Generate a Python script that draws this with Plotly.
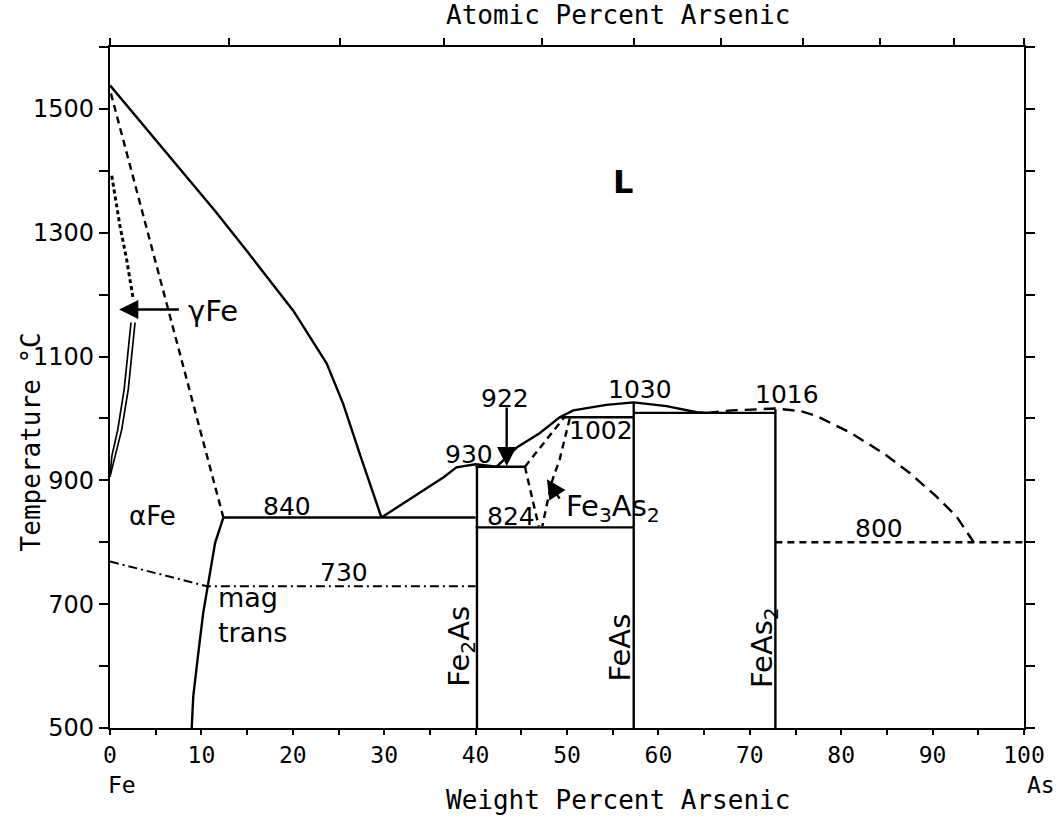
import plotly.graph_objects as go

# ---------------- data (wt% As, temperature degC) ----------------
liq_fe_x = [0, 5, 9.85, 11.5, 15, 20.05, 23.7, 25.5, 27.5, 29.7]
liq_fe_y = [1538, 1450, 1365, 1335, 1270, 1174, 1089, 1024, 935, 840]

liq_mid_x = [29.7, 32, 34.3, 36.5, 37.9, 40.0, 42.3, 44.5, 47.0, 49.2, 50.7, 54.3, 57.3, 60.9, 64.2, 65.3]
liq_mid_y = [840, 862, 884, 905, 921, 926, 922, 953, 976, 1002, 1013, 1022, 1026, 1020, 1010, 1009]

liq_as_x = [65.3, 68, 72.8, 75.5, 77.3, 81.0, 84.6, 87.5, 90.4, 92.6, 94.5]
liq_as_y = [1009, 1013, 1016, 1012, 1004, 977, 944, 912, 874, 842, 800]

solvus_x = [12.4, 11.5, 10.75, 10.2, 9.66, 9.11, 8.94]
solvus_y = [840, 799, 734, 686, 621, 551, 500]

delta_x = [0.1, 12.4]
delta_y = [1525, 840]

gamma_wavy_x = [0.19, 1.09, 1.82, 2.55]
gamma_wavy_y = [1392, 1311, 1257, 1192]

gamma_outer_x = [0, 0.55, 1.28, 2.0, 2.74]
gamma_outer_y = [906, 939, 982, 1047, 1155]
gamma_inner_x = [0, 0.2, 0.85, 1.55, 2.3]
gamma_inner_y = [906, 939, 982, 1047, 1155]

mag_x = [0, 10.6, 40]
mag_y = [769, 729, 729]

fe3as2_left_x = [45.4, 46.9]
fe3as2_left_y = [922, 826]
fe3as2_top_x = [45.4, 49.7]
fe3as2_top_y = [922, 1002]
fe3as2_right_x = [50.3, 49.2, 48.3, 47.3]
fe3as2_right_y = [1000, 934, 896, 826]

# invariant lines: (x0, x1, T)
eut_840 = [12.4, 40.0, 840]
per_922 = [40.0, 45.4, 922]
line_1002 = [49.2, 57.3, 1002]
eut_824 = [40.0, 57.3, 824]
eut_1009 = [57.3, 72.8, 1009]
mono_800 = [72.8, 100.0, 800]

# compounds: (wt%, top temperature)
comp_x = [40.15, 57.3, 72.8]
comp_top = [923, 1026, 1015]
comp_names = ["Fe<sub>2</sub>As", "FeAs", "FeAs<sub>2</sub>"]

at_ticks = [0, 10, 20, 30, 40, 50, 60, 70, 80, 90, 100]
M_AS, M_FE = 74.9216, 55.845

bottom_ticks = list(range(0, 101, 5))
bottom_text = [str(v) if v % 10 == 0 else "" for v in bottom_ticks]
left_ticks = list(range(500, 1601, 100))
left_text = [str(v) if v % 200 == 100 and v <= 1500 else "" for v in left_ticks]

# ---------------- figure ----------------
fig = go.Figure()
K = "black"

def line(x, y, dash="solid", w=2.4):
    fig.add_trace(go.Scatter(x=x, y=y, mode="lines", line=dict(color=K, width=w, dash=dash),
                             hoverinfo="skip", showlegend=False))

line(liq_fe_x, liq_fe_y)
line(liq_mid_x, liq_mid_y)
line(liq_as_x, liq_as_y, dash="12px,7px")
line(solvus_x, solvus_y)
line(delta_x, delta_y, dash="7px,5px")
line(gamma_wavy_x, gamma_wavy_y, dash="4px,3px", w=3)
line(gamma_outer_x, gamma_outer_y, w=1.7)
line(gamma_inner_x, gamma_inner_y, w=1.7)
line(mag_x, mag_y, dash="9px,4px,2px,4px", w=2)
line(fe3as2_left_x, fe3as2_left_y, dash="7px,5px")
line(fe3as2_top_x, fe3as2_top_y, dash="7px,5px")
line(fe3as2_right_x, fe3as2_right_y, dash="7px,5px")

for seg, dash in [(eut_840, "solid"), (per_922, "solid"), (line_1002, "solid"),
                  (eut_824, "solid"), (eut_1009, "solid"), (mono_800, "7px,5px")]:
    line([seg[0], seg[1]], [seg[2], seg[2]], dash=dash)

for cx, ct in zip(comp_x, comp_top):
    line([cx, cx], [500, ct])

# invisible trace for the top (atomic percent) axis
at_wt = [a * M_AS / (a * M_AS + (100 - a) * M_FE) * 100 for a in at_ticks]
fig.add_trace(go.Scatter(x=at_wt, y=[500] * len(at_wt), xaxis="x2", mode="markers",
                         marker=dict(opacity=0), hoverinfo="skip", showlegend=False))

NUM = dict(family="DejaVu Sans", size=25, color=K)
WORD = dict(family="DejaVu Sans", size=29, color=K)

def lab(x, y, t, font=NUM, xa="center", angle=0):
    fig.add_annotation(x=x, y=y, text=t, showarrow=False, font=font, xanchor=xa,
                       yanchor="middle", textangle=angle, align="left")

lab(56.1, 1382, "<b>L</b>", font=dict(family="DejaVu Sans", size=32, color=K))
lab(4.7, 842, "αFe", font=dict(family="DejaVu Sans", size=26, color=K))
lab(19.4, 858, "840")
lab(25.6, 751, "730")
lab(11.6, 683, "mag<br>trans", font=dict(family="DejaVu Sans", size=27, color=K), xa="left")
lab(39.3, 941, "930")
lab(43.2, 1033, "922")
lab(58.0, 1046, "1030")
lab(53.7, 980, "1002")
lab(43.9, 842, "824")
lab(49.7, 856, "Fe<sub>3</sub>As<sub>2</sub>", font=WORD, xa="left")
lab(74.1, 1038, "1016")
lab(84.1, 822, "800")
lab(8.3, 1173, "γFe", font=WORD, xa="left")
lab(38.4, 633, comp_names[0], font=WORD, angle=-90)
lab(55.7, 630, comp_names[1], font=WORD, angle=-90)
lab(71.5, 630, comp_names[2], font=WORD, angle=-90)

# arrows
def arrow(x, y, ax, ay):
    fig.add_annotation(x=x, y=y, ax=ax, ay=ay, xref="x", yref="y", axref="x", ayref="y",
                       showarrow=True, arrowhead=2, arrowsize=1.6, arrowwidth=2.4,
                       arrowcolor=K, text="")

arrow(1.0, 1176, 7.7, 1176)
arrow(43.4, 923, 43.4, 1020)
arrow(47.8, 902, 49.3, 868)

MONO = "DejaVu Sans Mono"
fig.add_annotation(x=0.556, y=1.047, xref="paper", yref="paper", text="Atomic Percent Arsenic",
                   showarrow=False, xanchor="center", yanchor="middle",
                   font=dict(family=MONO, size=26, color=K))
fig.add_annotation(x=0.556, y=-0.106, xref="paper", yref="paper", text="Weight Percent Arsenic",
                   showarrow=False, xanchor="center", yanchor="middle",
                   font=dict(family=MONO, size=26, color=K))
fig.add_annotation(x=-0.086, y=0.42, xref="paper", yref="paper", text="Temperature °C",
                   showarrow=False, textangle=-90, xanchor="center", yanchor="middle",
                   font=dict(family=MONO, size=26, color=K))
fig.add_annotation(x=-0.004, y=-0.084, xref="paper", yref="paper", text="Fe", xanchor="left",
                   yanchor="middle", showarrow=False, font=dict(family=MONO, size=23, color=K))
fig.add_annotation(x=1.036, y=-0.084, xref="paper", yref="paper", text="As", xanchor="right",
                   yanchor="middle", showarrow=False, font=dict(family=MONO, size=23, color=K))

fig.update_layout(
    width=1059, height=835,
    margin=dict(l=110, r=35, t=47, b=107),
    paper_bgcolor="white", plot_bgcolor="white",
    showlegend=False,
    xaxis=dict(range=[0, 100], showgrid=False, zeroline=False, showline=True, linecolor=K,
               linewidth=2.4, ticks="outside", ticklen=5, tickwidth=2, tickcolor=K,
               tickvals=bottom_ticks, ticktext=bottom_text,
               tickfont=dict(family=MONO, size=23, color=K)),
    xaxis2=dict(range=[0, 100], overlaying="x", side="top", showgrid=False, zeroline=False,
                showline=True, linecolor=K, linewidth=2.4, ticks="outside", ticklen=7,
                tickwidth=2, tickcolor=K, tickvals=at_wt, ticktext=[""] * len(at_wt)),
    yaxis=dict(range=[500, 1600], showgrid=False, zeroline=False, showline=True, linecolor=K,
               linewidth=2.4, ticks="outside", ticklen=9, tickwidth=2, tickcolor=K,
               mirror="ticks", tickvals=left_ticks, ticktext=left_text,
               tickfont=dict(family="DejaVu Sans", size=24, color=K)),
)

fig.write_html("out.html")
